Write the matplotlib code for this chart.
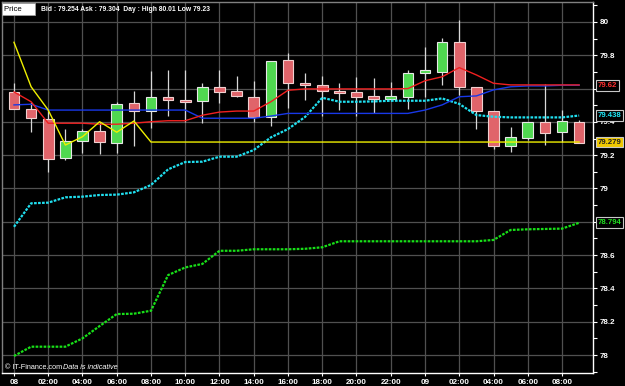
import matplotlib
matplotlib.use("Agg")
import matplotlib.pyplot as plt
import matplotlib.transforms as mtransforms
import numpy as np

# ---- data ----
hours = list(range(34))  # hourly candles from 08 00:00 to 09 09:00
open_ = [79.580, 79.478, 79.416, 79.181, 79.287, 79.344, 79.271, 79.512, 79.465, 79.550,
         79.530, 79.524, 79.611, 79.586, 79.551, 79.429, 79.770, 79.634, 79.623, 79.587,
         79.580, 79.554, 79.539, 79.551, 79.695, 79.701, 79.878, 79.608, 79.464, 79.257,
         79.305, 79.399, 79.338, 79.399]
close = [79.479, 79.422, 79.177, 79.285, 79.344, 79.277, 79.506, 79.465, 79.550, 79.530,
         79.520, 79.610, 79.581, 79.554, 79.429, 79.764, 79.632, 79.622, 79.584, 79.572,
         79.551, 79.539, 79.554, 79.692, 79.710, 79.878, 79.611, 79.464, 79.257, 79.308,
         79.399, 79.332, 79.405, 79.275]
high = [79.632, 79.521, 79.476, 79.357, 79.357, 79.401, 79.521, 79.586, 79.706, 79.712,
        79.712, 79.635, 79.712, 79.676, 79.646, 79.764, 79.812, 79.692, 79.676, 79.635,
        79.671, 79.662, 79.641, 79.712, 79.848, 79.904, 80.010, 79.608, 79.464, 79.368,
        79.399, 79.628, 79.471, 79.411]
low = [79.479, 79.341, 79.099, 79.171, 79.211, 79.207, 79.215, 79.255, 79.365, 79.435,
       79.401, 79.395, 79.515, 79.551, 79.401, 79.377, 79.482, 79.532, 79.435, 79.471,
       79.435, 79.455, 79.526, 79.477, 79.551, 79.622, 79.562, 79.357, 79.237, 79.221,
       79.291, 79.261, 79.281, 79.271]

yellow_line = [79.878, 79.611, 79.471, 79.261, 79.311, 79.401, 79.338, 79.405, 79.279, 79.279,
               79.279, 79.279, 79.279, 79.279, 79.279, 79.279, 79.279, 79.279, 79.279, 79.279,
               79.279, 79.279, 79.279, 79.279, 79.279, 79.279, 79.279, 79.279, 79.279, 79.279,
               79.279, 79.279, 79.279, 79.279]
red_line = [79.580, 79.521, 79.392, 79.392, 79.392, 79.386, 79.386, 79.392, 79.401, 79.407,
            79.407, 79.440, 79.459, 79.465, 79.465, 79.521, 79.590, 79.598, 79.598, 79.598,
            79.598, 79.598, 79.598, 79.600, 79.647, 79.671, 79.726, 79.682, 79.632, 79.622,
            79.622, 79.622, 79.622, 79.622]
blue_line = [79.502, 79.506, 79.471, 79.471, 79.471, 79.471, 79.471, 79.471, 79.471, 79.471,
             79.471, 79.422, 79.422, 79.422, 79.422, 79.435, 79.451, 79.451, 79.451, 79.451,
             79.451, 79.451, 79.451, 79.451, 79.471, 79.502, 79.551, 79.556, 79.592, 79.611,
             79.616, 79.616, 79.620, 79.620]
cyan_line = [78.770, 78.911, 78.915, 78.947, 78.951, 78.961, 78.963, 78.977, 79.021, 79.115,
             79.159, 79.161, 79.191, 79.191, 79.231, 79.307, 79.357, 79.430, 79.545, 79.521,
             79.521, 79.523, 79.527, 79.527, 79.527, 79.541, 79.508, 79.441, 79.431, 79.427,
             79.427, 79.427, 79.427, 79.438]
green_line = [77.994, 78.050, 78.050, 78.050, 78.100, 78.174, 78.246, 78.248, 78.266, 78.480,
              78.526, 78.547, 78.626, 78.626, 78.635, 78.635, 78.635, 78.638, 78.647, 78.683,
              78.683, 78.683, 78.683, 78.683, 78.683, 78.683, 78.683, 78.683, 78.691, 78.751,
              78.755, 78.757, 78.759, 78.794]

xtick_pos = list(range(0, 34, 2))
xtick_labels = ["08", "02:00", "04:00", "06:00", "08:00", "10:00", "12:00", "14:00", "16:00",
                "18:00", "20:00", "22:00", "09", "02:00", "04:00", "06:00", "08:00"]
ytick_major = [78.0, 78.2, 78.4, 78.6, 78.8, 79.0, 79.2, 79.4, 79.6, 79.8, 80.0]
ytick_labels = ["78", "78.2", "78.4", "78.6", "", "79", "79.2", "79.4", "", "79.8", "80"]

right_labels = [("79.62", 79.62, "#ff3030", "black"),
                ("79.438", 79.438, "#20e8f8", "black"),
                ("79.279", 79.279, "#202020", "#f0c800"),
                ("78.794", 78.794, "#20e020", "black")]

header = "Bid : 79.254 Ask : 79.304  Day : High 80.01 Low 79.23"

# ---- figure ----
plt.rcParams['font.family'] = ['Liberation Sans', 'DejaVu Sans']
fig = plt.figure(figsize=(6.25, 3.86), dpi=100, facecolor="black")
ax = fig.add_axes([2/625, 13/386, 591/625, 371/386])
ax.set_facecolor("black")

x = np.array(hours)
o = np.array(open_); c = np.array(close)
up = c >= o
col_up = "#50d850"
col_dn = "#e0646a"

# wicks
ax.vlines(x, low, high, color="#d8d8d8", lw=0.9, zorder=3)
# bodies
bottoms = np.minimum(o, c)
heights = np.maximum(np.abs(c - o), 0.01)
ax.bar(x[up], heights[up], bottom=bottoms[up], width=0.62, color=col_up,
       edgecolor="#e8e8e8", linewidth=0.8, zorder=4)
ax.bar(x[~up], heights[~up], bottom=bottoms[~up], width=0.62, color=col_dn,
       edgecolor="#f0d0d0", linewidth=0.8, zorder=4)

# indicator lines
ax.plot(x, green_line, color="#18e018", lw=1.6, dashes=(1.2, 0.6), zorder=5)
ax.plot(x, cyan_line, color="#20e0f0", lw=1.6, dashes=(1.2, 0.6), zorder=5)
ax.plot(x, blue_line, color="#1838e8", lw=1.0, zorder=5)
ax.plot(x, red_line, color="#f02020", lw=1.0, zorder=6)
ax.plot(x, yellow_line, color="#f0f000", lw=1.0, zorder=6)

# axes
ax.set_xlim(-0.70, 33.81)
ax.set_ylim(77.892, 80.120)
ax.set_xticks(xtick_pos)
ax.set_xticklabels(xtick_labels)
ax.yaxis.tick_right()
ax.set_yticks(ytick_major)
ax.set_yticklabels(ytick_labels)
ax.set_yticks(np.arange(77.9, 80.11, 0.1), minor=True)
ax.tick_params(axis="y", which="both", colors="white", labelcolor="white",
               labelsize=5.8, length=3, width=0.8, pad=2)
ax.tick_params(axis="x", colors="white", labelcolor="white", labelsize=5.8,
               length=2, width=0.8, pad=2)
for lab in ax.get_xticklabels() + ax.get_yticklabels():
    lab.set_fontweight("bold")
ax.grid(True, which="major", color="#505050", lw=0.9)
ax.set_axisbelow(True)
for s in ["right", "bottom"]:
    ax.spines[s].set_color("white")
    ax.spines[s].set_linewidth(1.0)
for s in ["left", "top"]:
    ax.spines[s].set_color("#808080")
    ax.spines[s].set_linewidth(1.0)

# right value labels
trans = mtransforms.blended_transform_factory(ax.transAxes, ax.transData)
for txt, val, tc, bg in right_labels:
    ax.text(1.008, val, txt, transform=trans, color=tc, fontsize=5.6, fontweight="bold",
            va="center", ha="left", clip_on=False, zorder=10,
            bbox=dict(boxstyle="square,pad=0.25", fc=bg, ec="#c8c8c8", lw=0.8))

# header
ax.text(0.004, 0.990, "Price     ", transform=ax.transAxes, color="black", fontsize=5.6,
        va="top", ha="left", zorder=10,
        bbox=dict(boxstyle="square,pad=0.35", fc="white", ec="#a0a0a0", lw=0.6))
ax.text(0.066, 0.990, header, transform=ax.transAxes, color="white", fontsize=4.9,
        fontweight="bold", va="top", ha="left", zorder=10)

# footer
ax.text(0.005, 0.006, "\u00a9 IT-Finance.com", transform=ax.transAxes, color="white",
        fontsize=5.2, va="bottom", ha="left", zorder=10)
ax.text(0.104, 0.006, "Data is indicative", transform=ax.transAxes, color="white",
        fontsize=5.2, style="italic", va="bottom", ha="left", zorder=10)

fig.savefig("out.png", dpi=100, facecolor="black")
